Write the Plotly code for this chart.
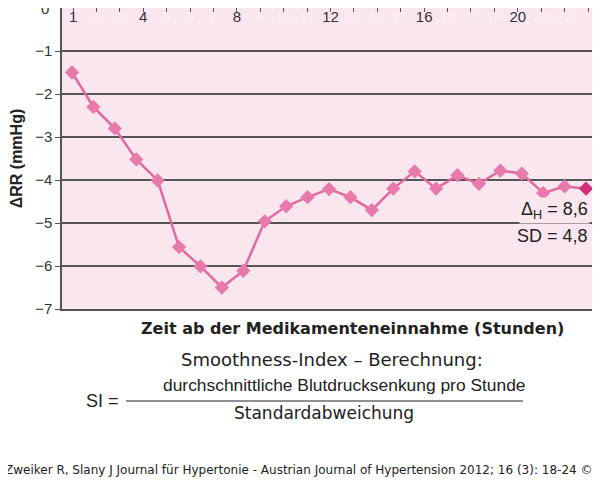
import plotly.graph_objects as go

points = list(range(1, 26))
drr = [-1.5, -2.3, -2.8, -3.52, -4.01, -5.56, -6.01, -6.5, -6.11, -4.96, -4.61, -4.4,
       -4.21, -4.4, -4.7, -4.2, -3.8, -4.2, -3.89, -4.09, -3.78, -3.85, -4.3, -4.15, -4.2]
hours = list(range(1, 24))
major_hours = [1, 4, 8, 12, 16, 20, 23]
yticks = [-1, -2, -3, -4, -5, -6, -7]

LIB = "Liberation Sans, Arial, sans-serif"
DJV = "DejaVu Sans, sans-serif"
line_col = "#e2699d"
colors = ["#e87aab"] * (len(drr) - 1) + ["#d02d78"]

fig = go.Figure()
fig.add_trace(go.Scatter(x=points, y=drr, mode="lines+markers",
                         line=dict(color=line_col, width=2.5),
                         marker=dict(symbol="diamond", size=11, color=colors),
                         hoverinfo="skip", showlegend=False))
fig.add_trace(go.Scatter(x=[hours[0], hours[-1]], y=[0, 0], xaxis="x2", mode="markers",
                         marker=dict(opacity=0), hoverinfo="skip", showlegend=False))

ticktext = [str(h) if h in major_hours else f"<span style='color:#f6f0f3'>{h}</span>" for h in hours]

fig.update_layout(
    width=592, height=481,
    margin=dict(l=54, r=8, t=0, b=180),
    paper_bgcolor="white", plot_bgcolor="#fae6ee",
    font=dict(family=LIB, color="#222"),
    xaxis=dict(range=[0.533, 25.28], showticklabels=False, showgrid=False, zeroline=False,
               showline=True, linecolor="#555", linewidth=1.5, ticks=""),
    xaxis2=dict(overlaying="x", side="top", range=[0.528, 23.17], tickvals=hours, ticktext=ticktext,
                ticks="inside", ticklen=4, tickcolor="#555", ticklabelposition="inside",
                tickfont=dict(size=15, color="#333"), showgrid=False, zeroline=False,
                showline=True, linecolor="#777", linewidth=1.5),
    yaxis=dict(range=[-7, 0], tickvals=yticks, ticktext=[str(v).replace("-", "−") for v in yticks],
               ticks="outside", ticklen=5, tickcolor="#555", tickfont=dict(size=15, color="#333"),
               showgrid=True, gridcolor="#555", gridwidth=1.5, zeroline=False,
               showline=True, linecolor="#555", linewidth=1.5, automargin=False,
               title=dict(text="<b>ΔRR (mmHg)</b>", font=dict(size=16), standoff=12)),
)

ann = [
    dict(x=51, y=8, text="0", xanchor="right", font=dict(size=15, color="#333")),
    dict(x=590, y=210, text="Δ<sub>H</sub> = 8,6", xanchor="right", font=dict(size=18), bgcolor="#fae6ee"),
    dict(x=590, y=236, text="SD = 4,8", xanchor="right", font=dict(size=18)),
    dict(x=352, y=328, text="<b>Zeit ab der Medikamenteneinnahme (Stunden)</b>", font=dict(size=16, family=DJV)),
    dict(x=332, y=359, text="Smoothness-Index – Berechnung:", font=dict(size=18, family=DJV)),
    dict(x=121, y=401, text="SI =", xanchor="right", font=dict(size=18)),
    dict(x=344, y=385, text="durchschnittliche Blutdrucksenkung pro Stunde", font=dict(size=17.4)),
    dict(x=324, y=413, text="Standardabweichung", font=dict(size=17, family=DJV)),
    dict(x=3, y=470, text="Zweiker R, Slany J Journal für Hypertonie - Austrian Journal of Hypertension 2012; 16 (3): 18-24 ©",
         xanchor="left", font=dict(size=12, family=DJV)),
]
for a in ann:
    a.update(xref="paper", yref="paper", showarrow=False, yanchor="middle")
    a["x"] = (a["x"] - 62) / 530
    a["y"] = (309 - a["y"]) / 301
    a.setdefault("xanchor", "center")
fig.update_layout(annotations=ann)
fig.add_shape(type="line", xref="paper", yref="paper",
              x0=(126 - 62) / 530, x1=(523 - 62) / 530, y0=(309 - 401) / 301, y1=(309 - 401) / 301,
              line=dict(color="#222", width=1.2))

fig.write_html("out.html")
